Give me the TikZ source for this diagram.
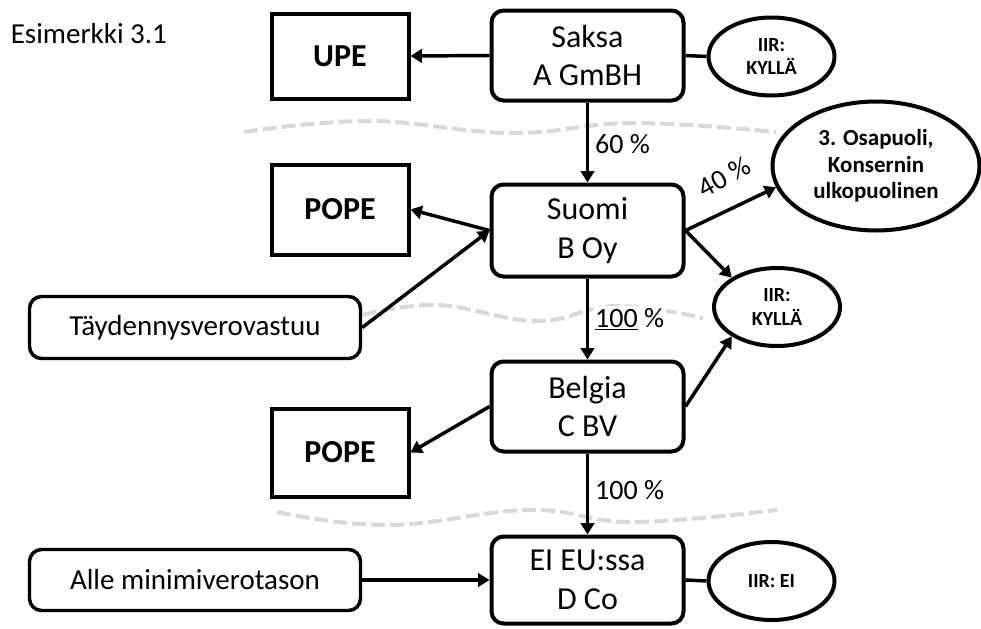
\documentclass[tikz,border=0pt]{standalone}
\usepackage{fontspec}
\setmainfont{Carlito}
\usetikzlibrary{arrows.meta,shapes.geometric}
\definecolor{wavegray}{HTML}{D9D9D9}
\begin{document}
\begin{tikzpicture}[x=0.75pt,y=-0.75pt,
  ent/.style={draw, line width=3pt, rounded corners=9pt, minimum width=144pt,
    align=center, inner sep=0pt, font=\fontsize{24}{29}\selectfont},
  pe/.style={draw, line width=3pt, minimum width=102.75pt, inner sep=0pt,
    font=\bfseries\fontsize{24}{29}\selectfont},
  note/.style={draw, line width=2.6pt, rounded corners=9pt, minimum width=248.25pt,
    inner sep=0pt, font=\fontsize{21.75}{26}\selectfont},
  iir/.style={ellipse, draw, line width=3pt, inner sep=0pt, align=center,
    minimum width=94.5pt, minimum height=58.5pt, font=\bfseries\fontsize{15}{17.5}\selectfont},
  arr/.style={line width=2.6pt, -{Triangle[length=8.5pt,width=10pt]}},
  link/.style={line width=2.6pt},
  pct/.style={font=\fontsize{21}{25}\selectfont, fill=white, inner sep=1.5pt},
  wave/.style={draw=wavegray, line width=3pt, dash pattern=on 10.5pt off 3.75pt},
]
\useasboundingbox (0,0) rectangle (981,628);

% boundary waves between the jurisdictions
\draw[wave] plot[smooth, tension=0.7] coordinates {(244,132) (369,121) (511,133) (633,123) (776,132)};
\draw[wave] plot[smooth, tension=0.7] coordinates {(363,315) (437,305) (537,321) (615,306) (703,318)};
\draw[wave] plot[smooth, tension=0.7] coordinates {(277,512) (388,525) (530,510) (632,522) (777,510)};

% title
\node[anchor=base west, inner sep=0pt, font=\fontsize{21.75}{26}\selectfont] (title) at (10.5,43) {Esimerkki 3.1};

% group entities
\node[ent, minimum height=67.5pt] (saksa) at (587.5,55.5) {Saksa\\A GmBH};
\node[ent, minimum height=69pt] (suomi) at (587.5,230.5) {Suomi\\B Oy};
\node[ent, minimum height=67.5pt] (belgia) at (587.5,406.5) {Belgia\\C BV};
\node[ent, minimum height=65.25pt] (ei) at (587.5,580) {EI EU:ssa\\D Co};

% roles
\node[pe, minimum height=63.75pt] (upe) at (340,56) {UPE};
\node[pe, minimum height=67.5pt] (pope1) at (340,209.5) {POPE};
\node[pe, minimum height=66pt] (pope2) at (340,452.5) {POPE};

% notes on the left
\node[note, minimum height=46.5pt] (tayd) at (195,327.5) {Täydennysverovastuu};
\node[note, minimum height=45.75pt] (alle) at (195,580) {Alle minimiverotason};

% IIR status and third party
\node[iir] (iir1) at (771.5,56.5) {IIR:\\KYLLÄ};
\node[iir] (iir2) at (777,307) {IIR:\\KYLLÄ};
\node[iir] (iir3) at (771.5,581) {IIR: EI};
\node[ellipse, draw, line width=3pt, inner sep=0pt, align=center,
  minimum width=155.25pt, minimum height=96.75pt,
  font=\bfseries\fontsize{17.25}{20}\selectfont] (third) at (876,166)
  {3. Osapuoli,\\Konsernin\\ulkopuolinen};

% connectors
\draw[arr] (saksa.west) -- (upe.east);
\draw[link] (saksa.east) -- (iir1.west);
\draw[arr] (saksa.south) -- node[pct, right, pos=0.52, xshift=3pt] (p60) {60 \%} (suomi.north);
\draw[arr] (suomi.west) -- (pope1.east);
\draw[arr] (tayd.east) -- (suomi.west);
\draw[arr] (suomi.east) -- (third.192);
\node[font=\fontsize{21}{25}\selectfont, inner sep=0pt, rotate=29] (p40) at (724,177) {40 \%};
\draw[arr] (suomi.east) -- (iir2.147);
\draw[arr] (suomi.south) -- node[pct, right, pos=0.5, xshift=3pt] (p100a) {\underline{100} \%} (belgia.north);
\draw[arr] (belgia.east) -- (iir2.213);
\draw[arr] (belgia.west) -- (pope2.east);
\draw[arr] (belgia.south) -- node[pct, right, pos=0.45, xshift=3pt] (p100b) {100 \%} (ei.north);
\draw[link] (ei.east) -- (iir3.west);
\draw[arr] (alle.east) -- (ei.west);
\end{tikzpicture}
\end{document}
